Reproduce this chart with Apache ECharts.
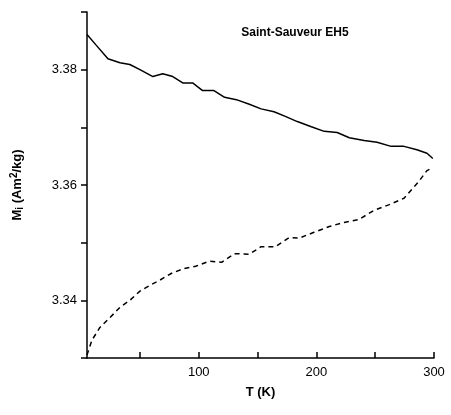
<!DOCTYPE html>
<html>
<head>
<meta charset="UTF-8">
<script src="https://cdn.jsdelivr.net/npm/echarts@6/dist/echarts.min.js"></script>
<style>body{margin:0}#main{width:451px;height:415px}</style>
</head>
<body>
<div id="main"></div>
<script>
var solidT = [5, 12.6, 22.8, 33, 41.4, 50, 61, 69.4, 77.9, 86.4, 94.8, 103, 112.6, 122, 132, 143, 153, 164, 173.6, 183.8, 195.7, 206.7, 217.7, 228, 240.6, 251.6, 263.5, 274.5, 285.5, 294, 299];
var solidM = [3.3861, 3.3843, 3.3819, 3.3812, 3.3809, 3.3800, 3.3788, 3.3793, 3.3788, 3.3777, 3.3777, 3.3764, 3.3764, 3.3752, 3.3748, 3.3740, 3.3732, 3.3727, 3.3719, 3.3710, 3.3701, 3.3693, 3.3691, 3.3682, 3.3677, 3.3674, 3.3667, 3.3667, 3.3661, 3.3655, 3.3646];
var dashT = [5, 9.2, 16, 24.5, 33, 41.4, 50, 58.4, 66.9, 77, 87.2, 97.4, 109, 119.4, 130.4, 143, 153, 165, 177, 185.5, 198, 211, 223.6, 236, 249, 262, 274.5, 287, 294, 299];
var dashM = [3.3305, 3.3331, 3.3353, 3.3370, 3.3388, 3.3400, 3.3416, 3.3426, 3.3435, 3.3447, 3.3455, 3.3459, 3.3468, 3.3466, 3.3481, 3.3480, 3.3493, 3.3493, 3.3509, 3.3508, 3.3518, 3.3528, 3.3535, 3.3540, 3.3556, 3.3566, 3.3577, 3.3606, 3.3625, 3.3630];
var yLabels = ['3.34', '3.36', '3.38'];

function pairs(xs, ys) {
  return xs.map(function (x, i) { return [x, ys[i]]; });
}

var chart = echarts.init(document.getElementById('main'));
chart.setOption({
  animation: false,
  textStyle: {fontFamily: 'Liberation Sans, Arial, sans-serif'},
  title: {
    text: 'Saint-Sauveur EH5', left: 290, top: 22, textAlign: 'center',
    textStyle: {fontSize: 12, fontWeight: 'bold', color: '#000'}
  },
  grid: {left: 87, right: 17, top: 12, bottom: 57},
  xAxis: {
    type: 'value', min: 5, max: 300,
    axisLine: {lineStyle: {color: '#000', width: 1.5}},
    axisTick: {inside: true, length: 6, lineStyle: {color: '#000', width: 1.5}, customValues: [50, 100, 150, 200, 250, 300]},
    axisLabel: {color: '#000', fontSize: 13, margin: 8, customValues: [100, 200, 300]},
    splitLine: {show: false},
    name: 'T (K)', nameLocation: 'middle', nameGap: 28,
    nameTextStyle: {fontSize: 13, fontWeight: 'bold', color: '#000'}
  },
  yAxis: {
    type: 'value', min: 3.33, max: 3.39, interval: 0.01,
    axisLine: {show: true, lineStyle: {color: '#000', width: 1.5}},
    axisTick: {show: true, length: 6, lineStyle: {color: '#000', width: 1.5}},
    axisLabel: {
      color: '#000', fontSize: 13, margin: 10,
      formatter: function (v) {
        var s = v.toFixed(2);
        return yLabels.indexOf(s) >= 0 ? s : '';
      }
    },
    splitLine: {show: false},
    name: '{b|M}{s|i}{b| (Am}{p|2}{b|/kg)}', nameLocation: 'middle', nameGap: 62, nameRotate: 90,
    nameTextStyle: {
      rich: {
        b: {fontSize: 13, fontWeight: 'bold', color: '#000'},
        s: {fontSize: 10, fontWeight: 'bold', color: '#000', verticalAlign: 'bottom', padding: [6, 0, 0, 0]},
        p: {fontSize: 10, fontWeight: 'bold', color: '#000', verticalAlign: 'top', padding: [0, 0, 6, 0]}
      }
    }
  },
  series: [
    {type: 'line', data: pairs(solidT, solidM), showSymbol: false, lineStyle: {color: '#000', width: 1.5}},
    {type: 'line', data: pairs(dashT, dashM), showSymbol: false, lineStyle: {color: '#000', width: 1.5, type: [5, 4]}}
  ]
});
</script>
</body>
</html>
